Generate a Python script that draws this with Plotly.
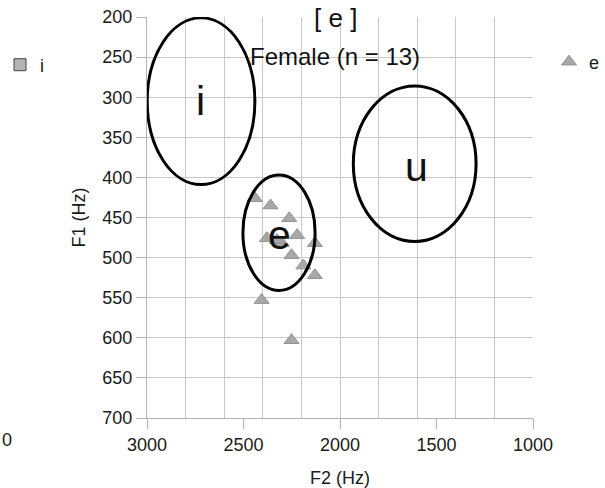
import plotly.graph_objects as go

# ---- data ----
f2_e = [2441, 2360, 2263, 2379, 2222, 2301, 2251, 2130, 2190, 2130, 2406, 2251, 2327]
f1_e = [426, 435, 451, 476, 472, 482, 497, 482, 510, 522, 553, 603, 478]

vowel_labels = ["i", "e", "u"]
label_f2 = [2721, 2315, 1602]
label_f1 = [305, 472, 387]

ell_f2_center = [2720, 2316, 1613]
ell_f1_center = [305, 469, 383]
ell_f2_radius = [279, 187, 318]
ell_f1_radius = [104, 72, 97]

x_ticks = [3000, 2500, 2000, 1500, 1000]

FONT = "Liberation Sans, Arial, sans-serif"
GRID = "#c8c8c8"
AXIS = "#b3b3b3"
TXT = "#1a1a1a"

W, H = 605, 488
ML, MR, MT, MB = 147, 72, 17, 70
PW, PH = W - ML - MR, H - MT - MB


def px_to_paper(px, py):
    return (px - ML) / PW, (H - MB - py) / PH


fig = go.Figure()

fig.add_trace(go.Scatter(
    x=[None], y=[None], mode="markers", name="i",
    marker=dict(symbol="square", size=12, color="#b4b4b4",
                line=dict(color="#444444", width=1)),
    xaxis="x2", yaxis="y", legend="legend", showlegend=True,
))

fig.add_trace(go.Scatter(
    x=f2_e, y=f1_e, mode="markers", name="e",
    marker=dict(symbol="triangle-up", size=13, color="#a8a8a8",
                line=dict(color="#939393", width=1)),
    xaxis="x", yaxis="y", legend="legend2",
))

for cx, cy, rx, ry in zip(ell_f2_center, ell_f1_center, ell_f2_radius, ell_f1_radius):
    fig.add_shape(type="circle", xref="x", yref="y",
                  x0=cx - rx, x1=cx + rx, y0=cy - ry, y1=cy + ry,
                  line=dict(color="black", width=3), layer="above")

for t, lx, ly in zip(vowel_labels, label_f2, label_f1):
    fig.add_annotation(x=lx, y=ly, xref="x", yref="y", text=t, showarrow=False,
                       font=dict(family=FONT, size=41, color="#111111"))

ax, ay = px_to_paper(335, 18)
fig.add_annotation(x=ax, y=ay, xref="paper", yref="paper",
                   text="[ e ]", showarrow=False, xanchor="center", yanchor="middle",
                   font=dict(family=FONT, size=26, color="#111111"))
ax, ay = px_to_paper(335, 56)
fig.add_annotation(x=ax, y=ay, xref="paper", yref="paper",
                   text="Female (n = 13)", showarrow=False, xanchor="center", yanchor="middle",
                   font=dict(family=FONT, size=24, color="#111111"))
ax, ay = px_to_paper(0, 440)
fig.add_annotation(x=ax, y=ay, xref="paper", yref="paper",
                   text="0", showarrow=False, xanchor="left", yanchor="middle",
                   font=dict(family=FONT, size=18, color=TXT))

fig.update_layout(
    width=W, height=H,
    margin=dict(l=ML, r=MR, t=MT, b=MB, autoexpand=False),
    paper_bgcolor="white", plot_bgcolor="white",
    font=dict(family=FONT, size=18, color=TXT),
    xaxis=dict(range=[3000, 1000], dtick=200, tick0=0, showgrid=True, gridcolor=GRID,
               gridwidth=1, showticklabels=False, ticks="", showline=True,
               linecolor=AXIS, zeroline=False, fixedrange=True, automargin=False),
    xaxis2=dict(range=[3000, 1000], overlaying="x", anchor="y", side="bottom",
                tickmode="array", tickvals=x_ticks, ticks="outside", ticklen=10,
                tickcolor=AXIS, showgrid=False, showline=False, zeroline=False,
                automargin=False,
                tickfont=dict(family=FONT, size=18, color=TXT),
                title=dict(text="F2 (Hz)", standoff=20,
                           font=dict(family=FONT, size=18, color=TXT))),
    yaxis=dict(range=[700, 200], dtick=50, tick0=0, ticks="outside", ticklen=10,
               tickcolor=AXIS, showgrid=True, gridcolor=GRID, showline=True,
               linecolor=AXIS, zeroline=False, automargin=False,
               tickfont=dict(family=FONT, size=18, color=TXT),
               title=dict(text="F1 (Hz)", standoff=12,
                          font=dict(family=FONT, size=18, color=TXT))),
    legend=dict(x=0, y=1 - 65 / H, xref="container", yref="container",
                xanchor="left", yanchor="middle", bgcolor="rgba(0,0,0,0)",
                font=dict(family=FONT, size=18, color=TXT)),
    legend2=dict(x=549 / W, y=1 - 62 / H, xref="container", yref="container",
                 xanchor="left", yanchor="middle", bgcolor="rgba(0,0,0,0)",
                 font=dict(family=FONT, size=18, color=TXT)),
)

fig.write_html("out.html")
